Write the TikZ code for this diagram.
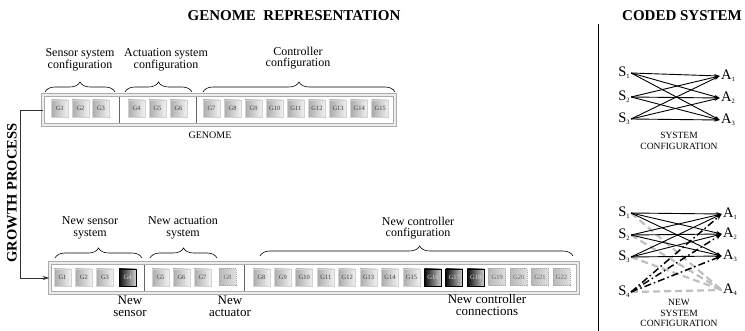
\documentclass[tikz,border=0pt]{standalone}
\usepackage{fontspec}
\setmainfont{Liberation Serif}
\usetikzlibrary{decorations.pathreplacing,arrows.meta}

% letter with a small lowered index
\newcommand{\idx}[2]{#1\raisebox{-2.2pt}{\fontsize{6.5}{6.5}\selectfont #2}}

\begin{document}
\begin{tikzpicture}[x=1pt,y=-1pt,
  title/.style={font=\bfseries\fontsize{15}{17}\selectfont},
  sidetitle/.style={font=\bfseries\fontsize{14.5}{16}\selectfont},
  lbl/.style={align=center,font=\fontsize{12}{11.5}\selectfont,inner sep=0pt},
  biglbl/.style={align=center,font=\fontsize{13}{12}\selectfont,inner sep=0pt},
  cellbase/.style={minimum width=17pt,minimum height=17pt,inner sep=0pt,
    font=\fontsize{6.5}{7}\selectfont},
  gcell/.style={cellbase,left color=gray!65,right color=gray!10,draw=gray!35,
    line width=0.8pt,text=black!75},
  darkcell/.style={cellbase,left color=black!95,right color=gray!35,draw=black,
    line width=0.8pt,text=gray!30},
  dashcell/.style={cellbase,left color=gray!55,right color=gray!25,draw=gray!70,
    line width=1pt,densely dotted,text=black!60},
  strip/.style={draw=gray!65,line width=1pt,double=gray!15,double distance=1.6pt,
    fill=white,inner sep=0pt},
  sep/.style={draw=black!60,line width=0.7pt},
  hbrace/.style={decorate,decoration={brace,amplitude=10pt},line width=0.6pt},
  sa/.style={font=\fontsize{14.5}{14}\selectfont,inner sep=1.2pt},
  arr/.style={-{Stealth[length=5.5pt,width=3.5pt]},line width=0.9pt},
  dda/.style={-{Stealth[length=6.5pt,width=4.5pt]},line width=1.5pt,
    dash pattern=on 7pt off 3pt on 1.5pt off 3pt},
  gdash/.style={draw=gray!50,line width=2.2pt,dash pattern=on 7pt off 4pt},
  caplbl/.style={align=center,font=\fontsize{9.5}{10.5}\selectfont,inner sep=0pt}
]
\useasboundingbox (0,0) rectangle (745,331);

% headings and divider
\node[title] (ttl1) at (294,16) {GENOME\ \ REPRESENTATION};
\node[title,anchor=east,inner sep=0pt] (ttl2) at (742,16) {CODED SYSTEM};
\draw[line width=0.8pt] (598,24) -- (598,331);

% ---------- original genome ----------
\node[strip,minimum width=352pt,minimum height=30pt] (topstrip) at (219,110) {};
\draw[sep] (119,97) -- (119,123);
\draw[sep] (196,97) -- (196,123);
\foreach \x [count=\i] in {60,80.5,101,136.5,157.5,178.5}
  \node[gcell] (tg\i) at (\x,108.5) {G\i};
\foreach \i in {7,...,15}
  \node[gcell] (tg\i) at ({211.5+21.1*(\i-7)},108.5) {G\i};
\node[font=\fontsize{10}{10}\selectfont] (glbl) at (210,135) {GENOME};

\draw[hbrace] (45,92) -- (115,92);
\draw[hbrace] (125,92) -- (192,92);
\draw[hbrace] (203,92) -- (395,92);
\node[lbl] (l1) at (80,60) {Sensor system\\configuration};
\node[lbl] (l2) at (166,60) {Actuation system\\configuration};
\node[lbl] (l3) at (298,58) {Controller\\configuration};

% ---------- grown genome ----------
\node[strip,minimum width=528pt,minimum height=30pt] (botstrip) at (314,278) {};
\draw[sep] (144,265) -- (144,291);
\draw[sep] (244,265) -- (244,291);
\foreach \x [count=\i] in {62.5,83.8,105}
  \node[gcell] (bg\i) at (\x,277.5) {G\i};
\node[darkcell] (bg4) at (127.5,277.5) {G4};
\foreach \x [count=\i from 5] in {160.5,181.5,202.5}
  \node[gcell] (bg\i) at (\x,277.5) {G\i};
\node[dashcell] (bg8) at (227.5,277.5) {G8};
\foreach \i in {8,...,15}
  \node[gcell] (bc\i) at ({261.5+21.43*(\i-8)},277.5) {G\i};
\foreach \i in {16,17,18}
  \node[darkcell] (bc\i) at ({261.5+21.43*(\i-8)},277.5) {G\i};
\foreach \i in {19,...,22}
  \node[dashcell] (bc\i) at ({261.5+21.43*(\i-8)},277.5) {G\i};

\draw[hbrace] (55,258) -- (142,258);
\draw[hbrace] (150,258) -- (217,258);
\draw[decorate,decoration={brace,amplitude=10pt,aspect=0.51},line width=0.6pt]
  (260,256) -- (573,256);
\node[lbl] (l4) at (90,228) {New sensor\\system};
\node[lbl] (l5) at (183,228) {New actuation\\system};
\node[lbl] (l6) at (418,228) {New controller\\configuration};
\node[biglbl] (l7) at (130,306) {New\\sensor};
\node[biglbl] (l8) at (230,306) {New\\actuator};
\node[biglbl] (l9) at (487,305) {New controller\\connections};

% growth process link
\draw[-{Stealth[length=7pt,width=4pt]},line width=0.8pt,black!80]
  (topstrip.west) -- ++(-22,0) |- (botstrip.west);
\node[sidetitle,rotate=90] (gp) at (12,193) {GROWTH PROCESS};

% ---------- coded system ----------
\foreach \y [count=\i] in {73,97,119}
  \node[sa] (s\i) at (624,\y) {\idx{S}{\i}};
\foreach \y [count=\i] in {76,98,120}
  \node[sa] (a\i) at (728,\y) {\idx{A}{\i}};
\foreach \i in {1,2,3}
  \foreach \j in {1,2,3}
    \draw[arr] (s\i.east) -- (a\j.west);
\node[caplbl] (cfg1) at (679,141) {SYSTEM\\CONFIGURATION};

% ---------- new coded system ----------
\foreach \y [count=\i] in {213,235,257,292}
  \node[sa] (ns\i) at (624,\y) {\idx{S}{\i}};
\foreach \y [count=\i] in {214,234,256,290}
  \node[sa] (na\i) at (730,\y) {\idx{A}{\i}};
\foreach \i in {1,2,3,4}
  \draw[gdash] (ns\i.east) -- (na4.west);
\foreach \i in {1,2,3}
  \foreach \j in {1,2,3}
    \draw[arr] (ns\i.east) -- (na\j.west);
\foreach \j in {1,2,3}
  \draw[dda] (ns4.east) -- (na\j.west);
\node[caplbl] (cfg2) at (679,313) {NEW\\SYSTEM\\CONFIGURATION};
\end{tikzpicture}
\end{document}
